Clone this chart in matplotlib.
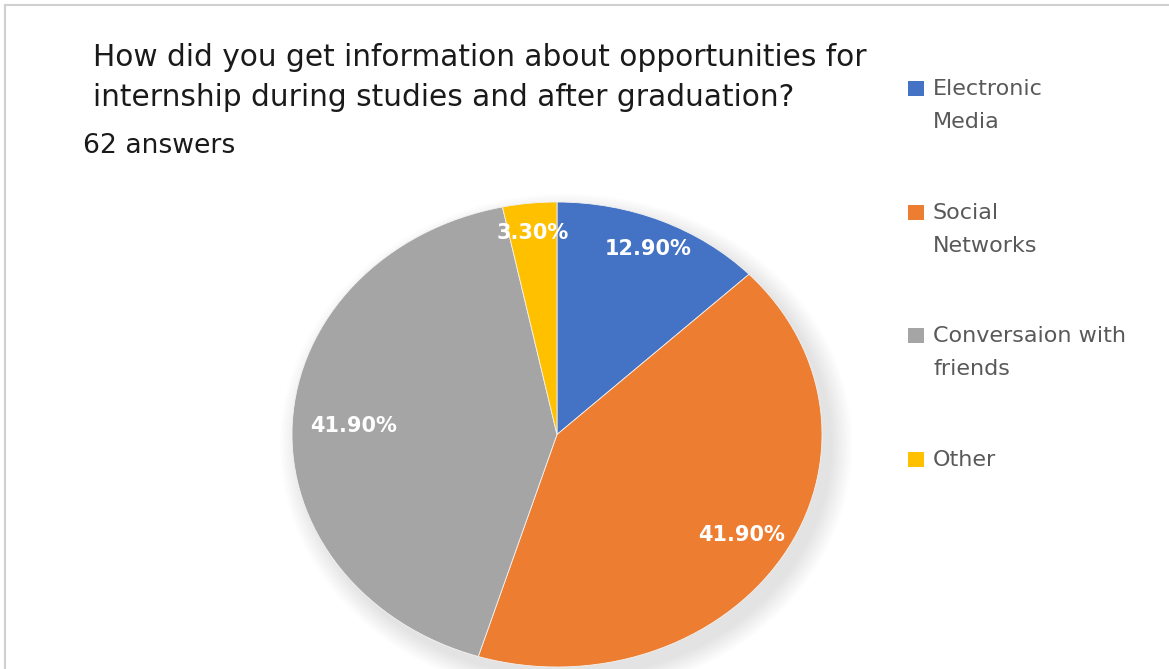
import numpy as np
import matplotlib
matplotlib.use("Agg")
import matplotlib.pyplot as plt
from matplotlib.patches import Ellipse
from matplotlib.lines import Line2D

# Survey answers (percent of 62 respondents)
categories = ["Electronic\nMedia", "Social\nNetworks", "Conversaion with\nfriends", "Other"]
shares = [12.9, 41.9, 41.9, 3.3]
colors = ["#4472C4", "#ED7D31", "#A5A5A5", "#FFC000"]
title_lines = ["How did you get information about opportunities for",
               "internship during studies and after graduation?"]
subtitle_text = "62 answers"

W, H = 1169, 669
fig = plt.figure(figsize=(W / 100, H / 100), dpi=100)
fig.patch.set_facecolor("white")

FONT = "DejaVu Sans"


def px_box(x0, y0, x1, y1):
    """Axes rectangle from pixel corners (origin at top-left)."""
    return [x0 / W, 1 - y1 / H, (x1 - x0) / W, (y1 - y0) / H]


def fy(y):
    return 1 - y / H


# Pie area (slightly stretched ellipse)
ax = fig.add_axes(px_box(292, 202, 822, 667))

# soft drop shadow behind the pie
for k in range(28):
    grow = 0.003 * k
    ax.add_patch(Ellipse((0.035, -0.045), 2 * (1.0 + grow), 2 * (1.0 + grow),
                         facecolor="#8a94a0", edgecolor="none", alpha=0.008,
                         zorder=0, clip_on=False))

wedges, _ = ax.pie(shares, colors=colors, startangle=90, counterclock=False,
                   radius=1.0, wedgeprops=dict(edgecolor="#f2f2f2", linewidth=0.6),
                   frame=False)
for w in wedges:
    w.set_zorder(2)
ax.set_aspect("auto")
ax.set_xlim(-1, 1)
ax.set_ylim(-1, 1)
ax.axis("off")

# data labels inside each slice
label_radius = [0.87, 0.82, 0.77, 0.87]
for w, v, r in zip(wedges, shares, label_radius):
    mid = np.deg2rad((w.theta1 + w.theta2) / 2)
    ax.text(r * np.cos(mid), r * np.sin(mid), f"{v:.2f}%", color="white",
            fontsize=15, fontweight="bold", family=FONT,
            ha="center", va="center", zorder=5)

# title and subtitle
for i, line in enumerate(title_lines):
    fig.text(93 / W, fy(58 + 40 * i), line, family=FONT, fontsize=21.3,
             color="#1a1a1a", ha="left", va="center")
fig.text(83 / W, fy(146), subtitle_text, family=FONT, fontsize=19.2,
         color="#1a1a1a", ha="left", va="center")

# legend entries
legend_y = [89, 213, 336, 460]
for lab, c, y in zip(categories, colors, legend_y):
    fig.patches.append(plt.Rectangle((908 / W, fy(y + 7)), 16 / W, 15 / H,
                                     transform=fig.transFigure, facecolor=c,
                                     edgecolor="none"))
    for j, part in enumerate(lab.split("\n")):
        fig.text(933 / W, fy(y + 33 * j), part, family=FONT, fontsize=16,
                 color="#595959", ha="left", va="center")

# thin chart border (top and left)
fig.add_artist(Line2D([5 / W, 1.0], [fy(5), fy(5)], color="#d0d0d0",
                      lw=1.5, transform=fig.transFigure))
fig.add_artist(Line2D([5 / W, 5 / W], [0, fy(5)], color="#d0d0d0",
                      lw=1.5, transform=fig.transFigure))

fig.savefig("out.png", dpi=100, facecolor="white")
